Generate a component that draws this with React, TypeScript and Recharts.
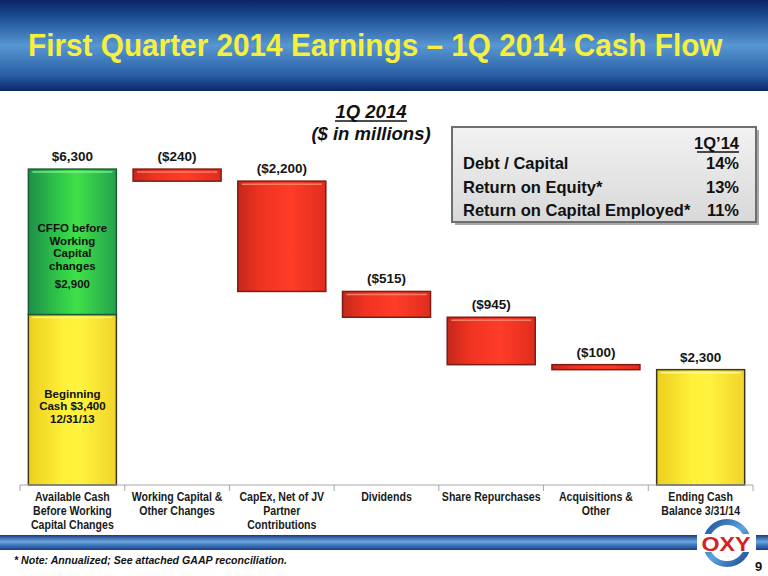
import { BarChart, Bar, XAxis, YAxis, LabelList } from "recharts";

// categories (tick label lines)
const categoryLines = [
  ["Available Cash", "Before Working", "Capital Changes"],
  ["Working Capital &", "Other Changes"],
  ["CapEx, Net of JV", "Partner", "Contributions"],
  ["Dividends"],
  ["Share Repurchases"],
  ["Acquisitions &", "Other"],
  ["Ending Cash", "Balance 3/31/14"],
];

// values, $ millions
const beginningCash = 3400;
const cffoBeforeWc = 2900;
const changes = [-240, -2200, -515, -945, -100];
const endingCash = 2300;

const barLabels = ["$6,300", "($240)", "($2,200)", "($515)", "($945)", "($100)", "$2,300"];
const cffoText = ["CFFO before", "Working", "Capital", "changes"];
const cffoValueText = "$2,900";
const beginningText = ["Beginning", "Cash $3,400", "12/31/13"];

const kpiHeader = "1Q\u201914";
const kpiNames = ["Debt / Capital", "Return on Equity*", "Return on Capital Employed*"];
const kpiValues = ["14%", "13%", "11%"];

const FONT = "'Liberation Sans', Arial, Helvetica, sans-serif";
const W = 768;
const H = 576;
const M = { top: 134, right: 15, bottom: 31, left: 20 };
const BAND = (W - M.left - M.right) / categoryLines.length;

// build waterfall rows
const data: any[] = [];
let running = beginningCash + cffoBeforeWc;
data.push({
  name: categoryLines[0].join(" "),
  base: 0,
  beginning: beginningCash,
  cffo: cffoBeforeWc,
  topLabel: barLabels[0],
  cffoInner: "cffo",
  begInner: "beg",
});
changes.forEach((c, i) => {
  running += c;
  data.push({
    name: categoryLines[i + 1].join(" "),
    base: running,
    decrease: -c,
    decLabel: barLabels[i + 1],
  });
});
data.push({
  name: categoryLines[6].join(" "),
  base: 0,
  ending: endingCash,
  endLabel: barLabels[6],
});

const makeShape = (grad: string, stroke: string, hi: string) => (props: any) => {
  const { x, y, width, height } = props;
  if (!height || height <= 0) return <g />;
  return (
    <g>
      <rect x={x} y={y} width={width} height={height} fill={`url(#${grad})`} stroke={stroke} strokeWidth={1.5} />
      {height > 10 && (
        <line x1={x + 4} x2={x + width - 4} y1={y + 3} y2={y + 3} stroke={hi} strokeWidth={1.5} opacity={0.85} />
      )}
    </g>
  );
};

const topLabel = (props: any) => {
  const { viewBox, value } = props;
  if (!value || !viewBox) return null;
  return (
    <text
      x={viewBox.x + viewBox.width / 2}
      y={viewBox.y - 8}
      textAnchor="middle"
      fontFamily={FONT}
      fontWeight="bold"
      fontSize={13.5}
      fill="#151515"
    >
      {value}
    </text>
  );
};

const cffoLabel = (props: any) => {
  const { viewBox, value } = props;
  if (!value || !viewBox) return null;
  const cx = viewBox.x + viewBox.width / 2;
  const cy = viewBox.y + viewBox.height / 2;
  return (
    <g fontFamily={FONT} fontWeight="bold" fontSize={11.5} fill="#111" textAnchor="middle">
      {cffoText.map((t, k) => (
        <text key={k} x={cx} y={cy - 10 + k * 12.8}>
          {t}
        </text>
      ))}
      <text x={cx} y={cy + 46}>
        {cffoValueText}
      </text>
    </g>
  );
};

const begLabel = (props: any) => {
  const { viewBox, value } = props;
  if (!value || !viewBox) return null;
  const cx = viewBox.x + viewBox.width / 2;
  const cy = viewBox.y + viewBox.height / 2;
  return (
    <g fontFamily={FONT} fontWeight="bold" fontSize={11.5} fill="#111" textAnchor="middle">
      {beginningText.map((t, k) => (
        <text key={k} x={cx} y={cy - 2 + k * 12.5}>
          {t}
        </text>
      ))}
    </g>
  );
};

const Tick = (props: any) => {
  const { x, y, payload } = props;
  const idx = payload.index;
  const lines = categoryLines[idx] || [];
  return (
    <g>
      <line x1={x - BAND / 2} x2={x - BAND / 2} y1={y} y2={y + 6} stroke="#a8a8a8" />
      {idx === categoryLines.length - 1 && (
        <line x1={x + BAND / 2} x2={x + BAND / 2} y1={y} y2={y + 6} stroke="#a8a8a8" />
      )}
      {lines.map((l, k) => (
        <text
          key={k}
          transform={`translate(${x},${y + 16 + k * 13.8}) scale(0.84,1)`}
          textAnchor="middle"
          fontFamily={FONT}
          fontWeight="bold"
          fontSize={12.6}
          fill="#1a1a1a"
        >
          {l}
        </text>
      ))}
    </g>
  );
};

function Decorations() {
  return (
    <svg width={W} height={H} style={{ position: "absolute", left: 0, top: 0 }}>
      <defs>
        <linearGradient id="banner" x1="0" y1="0" x2="0" y2="1">
          <stop offset="0%" stopColor="#0c2566" />
          <stop offset="18%" stopColor="#1b4c93" />
          <stop offset="50%" stopColor="#5797d2" />
          <stop offset="82%" stopColor="#2a5fa6" />
          <stop offset="100%" stopColor="#0c2668" />
        </linearGradient>
        <linearGradient id="stripe" x1="0" y1="0" x2="0" y2="1">
          <stop offset="0%" stopColor="#153a82" />
          <stop offset="45%" stopColor="#6fa6de" />
          <stop offset="60%" stopColor="#4a86c8" />
          <stop offset="100%" stopColor="#173d86" />
        </linearGradient>
        <linearGradient id="redG" x1="0" y1="0" x2="1" y2="0">
          <stop offset="0%" stopColor="#c4281c" />
          <stop offset="25%" stopColor="#ef3321" />
          <stop offset="60%" stopColor="#ff3c28" />
          <stop offset="100%" stopColor="#e02d1d" />
        </linearGradient>
        <linearGradient id="greenG" x1="0" y1="0" x2="1" y2="0">
          <stop offset="0%" stopColor="#1e8e4a" />
          <stop offset="40%" stopColor="#33cf48" />
          <stop offset="55%" stopColor="#40e048" />
          <stop offset="100%" stopColor="#24a24e" />
        </linearGradient>
        <linearGradient id="yellowG" x1="0" y1="0" x2="1" y2="0">
          <stop offset="0%" stopColor="#eccf1e" />
          <stop offset="40%" stopColor="#fff03a" />
          <stop offset="60%" stopColor="#fff23e" />
          <stop offset="100%" stopColor="#f0d42a" />
        </linearGradient>
        <linearGradient id="boxG" x1="0" y1="0" x2="0" y2="1">
          <stop offset="0%" stopColor="#f2f2f2" />
          <stop offset="100%" stopColor="#d8d8d8" />
        </linearGradient>
        <linearGradient id="ringG" x1="0" y1="0" x2="1" y2="1">
          <stop offset="0%" stopColor="#1d4f9c" />
          <stop offset="50%" stopColor="#5da3e0" />
          <stop offset="100%" stopColor="#1a4a96" />
        </linearGradient>
      </defs>

      {/* header */}
      <rect x={0} y={0} width={W} height={91} fill="url(#banner)" />
      <text
        transform="translate(28,56) scale(0.93,1)"
        fontFamily={FONT}
        fontWeight="bold"
        fontSize={32}
        fill="#f6ef3e"
      >
        First Quarter 2014 Earnings – 1Q 2014 Cash Flow
      </text>

      {/* subtitle */}
      <g fontFamily={FONT} fontWeight="bold" fontStyle="italic" fontSize={18.5} fill="#111" textAnchor="middle">
        <text x={371} y={118}>1Q 2014</text>
        <line x1={335} x2={407} y1={121} y2={121} stroke="#111" strokeWidth={1.5} />
        <text x={371} y={140}>($ in millions)</text>
      </g>

      {/* KPI box */}
      <rect x={455} y={130} width={304} height={95} fill="#a8a8a8" />
      <rect x={452} y={127} width={304} height={95} fill="url(#boxG)" stroke="#6e6e6e" strokeWidth={2} />
      <g fontFamily={FONT} fontWeight="bold" fontSize={16.5} fill="#111">
        <text x={739} y={149} textAnchor="end">{kpiHeader}</text>
        <line x1={697} x2={739} y1={152} y2={152} stroke="#111" strokeWidth={1.5} />
        {kpiNames.map((n, i) => (
          <g key={n}>
            <text x={463} y={169 + i * 23.5}>{n}</text>
            <text x={739} y={169 + i * 23.5} textAnchor="end">{kpiValues[i]}</text>
          </g>
        ))}
      </g>

      {/* footer stripe + logo */}
      <rect x={0} y={535} width={697} height={15} fill="url(#stripe)" />
      <rect x={756} y={535} width={12} height={15} fill="url(#stripe)" />
      <circle cx={727} cy={543} r={21} fill="none" stroke="url(#ringG)" strokeWidth={6} />
      <rect x={700} y={534} width={55} height={18} fill="#ffffff" />
      <text
        x={726}
        y={551}
        textAnchor="middle"
        fontFamily={FONT}
        fontWeight="bold"
        fontSize={20}
        fill="#d42222"
        textLength={49}
        lengthAdjust="spacingAndGlyphs"
      >
        OXY
      </text>
      <text x={755} y={571} fontFamily={FONT} fontWeight="bold" fontSize={13} fill="#111">9</text>

      <text
        x={14}
        y={564}
        fontFamily={FONT}
        fontWeight="bold"
        fontStyle="italic"
        fontSize={11.5}
        fill="#111"
        textLength={273}
        lengthAdjust="spacingAndGlyphs"
      >
        * Note: Annualized; See attached GAAP reconciliation.
      </text>
    </svg>
  );
}

export default function App() {
  return (
    <div style={{ position: "absolute", left: 0, top: 0, width: W, height: H, background: "#fff" }}>
      <Decorations />
      <div style={{ position: "absolute", left: 0, top: 0 }}>
        <BarChart width={W} height={H} data={data} margin={M} barCategoryGap="8%">
          <XAxis
            dataKey="name"
            interval={0}
            height={60}
            tickLine={false}
            tickSize={0}
            tickMargin={0}
            axisLine={{ stroke: "#a8a8a8" }}
            tick={<Tick />}
          />
          <YAxis hide domain={[0, 7000]} />
          <Bar dataKey="base" stackId="a" fill="transparent" isAnimationActive={false} />
          <Bar
            dataKey="beginning"
            stackId="a"
            isAnimationActive={false}
            shape={makeShape("yellowG", "#3a3520", "#fff8a0")}
          >
            <LabelList dataKey="begInner" content={begLabel} />
          </Bar>
          <Bar
            dataKey="cffo"
            stackId="a"
            isAnimationActive={false}
            shape={makeShape("greenG", "#1c5a34", "#8cf090")}
          >
            <LabelList dataKey="topLabel" content={topLabel} />
            <LabelList dataKey="cffoInner" content={cffoLabel} />
          </Bar>
          <Bar
            dataKey="decrease"
            stackId="a"
            isAnimationActive={false}
            shape={makeShape("redG", "#7c1c12", "#ff8a70")}
          >
            <LabelList dataKey="decLabel" content={topLabel} />
          </Bar>
          <Bar
            dataKey="ending"
            stackId="a"
            isAnimationActive={false}
            shape={makeShape("yellowG", "#3a3520", "#fff8a0")}
          >
            <LabelList dataKey="endLabel" content={topLabel} />
          </Bar>
        </BarChart>
      </div>
    </div>
  );
}
